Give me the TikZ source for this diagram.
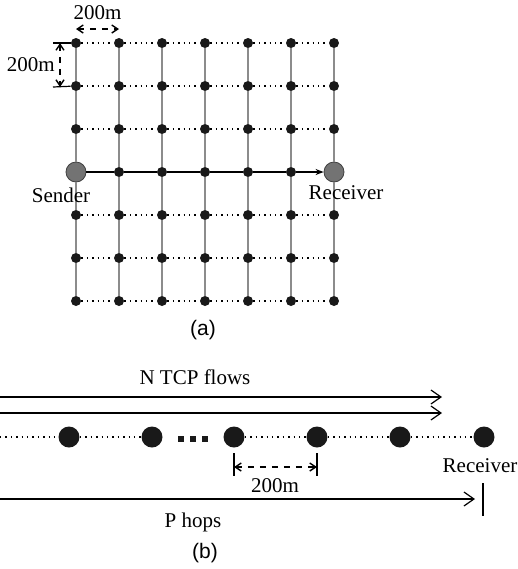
\documentclass[tikz,border=0pt]{standalone}
\usepackage{fontspec}
\setmainfont{Liberation Serif}
\setsansfont{Liberation Sans}
\usetikzlibrary{arrows.meta,calc}

\begin{document}
\begin{tikzpicture}[x=0.5pt, y=-0.5pt, font=\fontsize{10.5}{12}\selectfont,
    dot/.style={circle, fill=black!90, inner sep=0pt, minimum size=5pt},
    bigdot/.style={circle, fill=black!90, inner sep=0pt, minimum size=10.5pt},
    endpt/.style={circle, draw=black!75, fill=black!55, inner sep=0pt, minimum size=10pt},
    box/.style={rectangle, fill=black!90, inner sep=0pt, minimum size=3pt},
    vline/.style={black!45, line width=0.8pt},
    link/.style={dotted, line width=0.7pt},
    flow/.style={line width=0.6pt, -{Straight Barb[length=5pt, width=7pt]}},
    dim/.style={dashed, line width=0.7pt, {Straight Barb[length=3pt, width=4pt]}-{Straight Barb[length=3pt, width=4pt]}},
    tick/.style={line width=0.6pt}]

  \useasboundingbox (0,0) rectangle (518,569);

  % (a) grid of 7 x 7 nodes, 200m apart
  \foreach \c in {0,...,6}
    \foreach \r in {0,...,6}
      \node[dot] (g-\c-\r) at ({76+43*\c},{43+43*\r}) {};

  % Sender and receiver
  \node[endpt] (g-0-3) at (76,172) {};
  \node[endpt] (g-6-3) at (334,172) {};

  % Vertical links
  \foreach \c in {0,...,6}
    \foreach \r/\rn in {0/1,1/2,2/3,3/4,4/5,5/6}
      \draw[vline] (g-\c-\r) -- (g-\c-\rn);

  % Horizontal links
  \foreach \r in {0,1,2,4,5,6}
    \foreach \c/\cn in {0/1,1/2,2/3,3/4,4/5,5/6}
      \draw[link] (g-\c-\r) -- (g-\cn-\r);

  % TCP path from sender to receiver
  \foreach \c/\cn in {0/1,1/2,2/3,3/4,4/5}
    \draw[line width=0.6pt] (g-\c-3) -- (g-\cn-3);
  \draw[line width=0.6pt, -{Stealth[length=4pt, width=3pt]}] (g-5-3) -- (g-6-3);

  \node (snd) at (61,195) {Sender};
  \node (rcv) at (346,193) {Receiver};

  % Spacing marks
  \coordinate (h1) at (76,29);
  \coordinate (h2) at (119,29);
  \draw[dim] (h1) -- (h2) node[midway, above=1pt] {200m};
  \coordinate (v1) at (53,43);
  \coordinate (v2) at (53,87);
  \draw[tick] (v1) -- (g-0-0);
  \draw[tick] (v2) -- (g-0-1);
  \draw[dim] ($(v1)+(7,0)$) -- ($(v2)+(7,0)$) node[midway, left=-1pt] {200m};

  \node[font=\sffamily\fontsize{10.5}{12}\selectfont] (lbla) at (203,330) {(a)};

  % (b) chain topology
  \coordinate (b0) at (0,437);
  \foreach \i/\x in {1/69, 2/152, 3/234, 4/317, 5/400, 6/484}
    \node[bigdot] (b\i) at (\x,437) {};
  \draw[link] (b0) -- (b1);
  \draw[link] (b1) -- (b2);
  \draw[link] (b3) -- (b4);
  \draw[link] (b4) -- (b5);
  \draw[link] (b5) -- (b6);
  \foreach \i/\x in {1/181, 2/193, 3/205}
    \node[box] (e\i) at (\x,439) {};

  % N flows
  \coordinate (f1s) at (0,397);
  \coordinate (f1e) at (442,397);
  \coordinate (f2s) at (0,413);
  \coordinate (f2e) at (442,413);
  \draw[flow] (f1s) -- (f1e);
  \draw[flow] (f2s) -- (f2e);
  \node (nflows) at (195,377) {N TCP flows};

  % hop distance
  \coordinate (d1) at (234,453);
  \coordinate (d2) at (317,453);
  \draw[tick] (d1) -- ++(0,23);
  \draw[tick] (d2) -- ++(0,23);
  \draw[dim] ($(d1)+(0,14)$) -- ($(d2)+(0,14)$);
  \node (dlbl) at (275,486) {200m};

  \node[below=2pt, xshift=-2pt] (rcvb) at (b6.south) {Receiver};

  % P hops
  \coordinate (ps) at (0,499);
  \coordinate (pe) at (475,499);
  \coordinate (pt) at (483,483);
  \draw[flow] (ps) -- (pe);
  \draw[tick] (pt) -- ++(0,33);
  \node (phops) at (193,522) {P hops};

  \node[font=\sffamily\fontsize{10.5}{12}\selectfont] (lblb) at (205,553) {(b)};
\end{tikzpicture}
\end{document}
